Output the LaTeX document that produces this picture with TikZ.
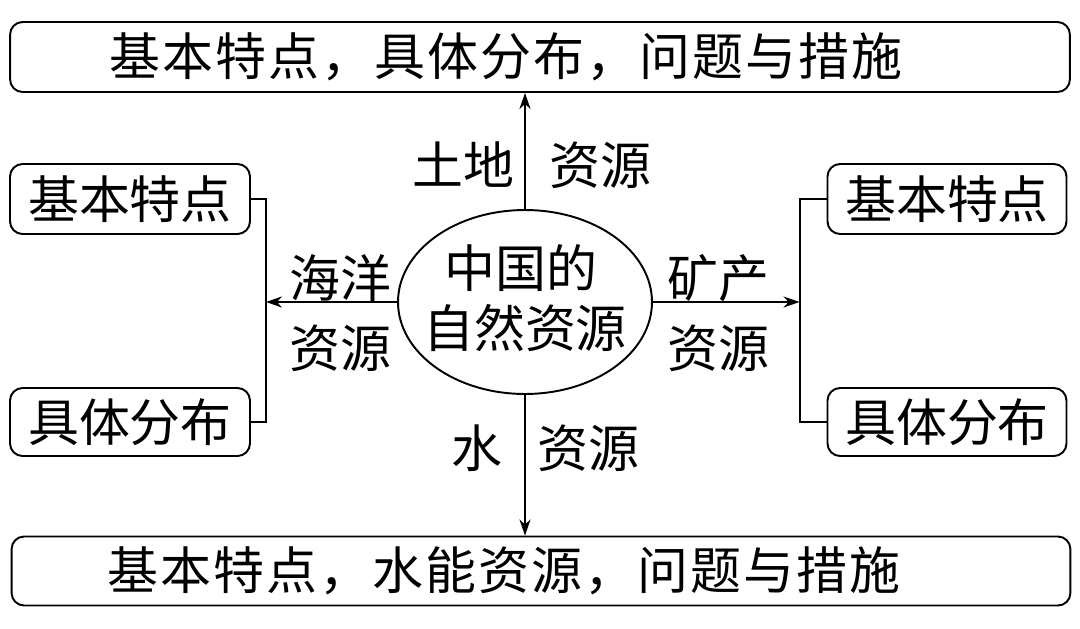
\documentclass[tikz,border=0pt]{standalone}
\usepackage{fontspec}
\setmainfont{Noto Sans CJK SC}
\newfontfamily\widecjk[LetterSpace=4]{Noto Sans CJK SC}
\usepackage{tikz}
\usetikzlibrary{shapes.geometric,arrows.meta,positioning}

\tikzset{
    box/.style={draw, line width=1.1pt, rounded corners=0.25cm, inner sep=0pt, font=\fontsize{29}{34}\selectfont},
    wide/.style={inner sep=0pt, font=\widecjk\fontsize{29}{34}\selectfont},
    lbl/.style={inner sep=0pt, font=\fontsize{29}{34}\selectfont},
    conn/.style={line width=1.1pt},
    arr/.style={line width=1.1pt, -{Stealth[length=3.2mm,width=2.2mm,inset=1mm]}}
}

\begin{document}
\begin{tikzpicture}[x=0.02cm, y=0.02cm]
    \path[use as bounding box] (0,0) rectangle (1080,-629);
    % centre
    \node[ellipse, draw, line width=1.1pt, minimum width=5.08cm, minimum height=3.68cm, inner sep=0pt] (res) at (525,-302) {};
    \node[lbl] (res1) at (521,-268) {中国的};
    \node[lbl] (res2) at (525,-328) {自然资源};
    % top and bottom
    \node[box, minimum width=21.2cm, minimum height=1.4cm] (top) at (540,-57) {};
    \node[wide] (toptxt) at (506,-57) {基本特点，具体分布，问题与措施};
    \node[box, minimum width=21.18cm, minimum height=1.38cm] (bot) at (541,-571) {};
    \node[wide] (bottxt) at (504,-571) {基本特点，水能资源，问题与措施};
    % sides
    \node[box, minimum width=4.8cm, minimum height=1.4cm] (lt) at (130,-199) {基本特点};
    \node[box, minimum width=4.8cm, minimum height=1.36cm] (lb) at (130,-422) {具体分布};
    \node[box, minimum width=4.78cm, minimum height=1.4cm] (rt) at (947,-199) {基本特点};
    \node[box, minimum width=4.78cm, minimum height=1.36cm] (rb) at (947,-422) {具体分布};

    \draw[conn] (lt.east) -- ++(15,0) coordinate (lk) |- (lb.east);
    \draw[conn] (rt.west) -- ++(-27,0) coordinate (rk) |- (rb.west);

    \draw[arr] (res.north) -- (res.north |- top.south);
    \draw[arr] (res.south) -- (res.south |- bot.north);
    \draw[arr] (res.west) -- (res.west -| lk);
    \draw[arr] (res.east) -- (res.east -| rk);

    % labels
    \node[lbl] (land1) at (463,-165) {土地};
    \node[lbl] (land2) at (600,-165) {资源};
    \node[lbl] (sea1) at (340,-278) {海洋};
    \node[lbl] (sea2) at (340,-348) {资源};
    \node[lbl] (min1) at (718,-278) {矿产};
    \node[lbl] (min2) at (718,-348) {资源};
    \node[lbl] (wat1) at (477,-448) {水};
    \node[lbl] (wat2) at (588,-448) {资源};
\end{tikzpicture}
\end{document}
